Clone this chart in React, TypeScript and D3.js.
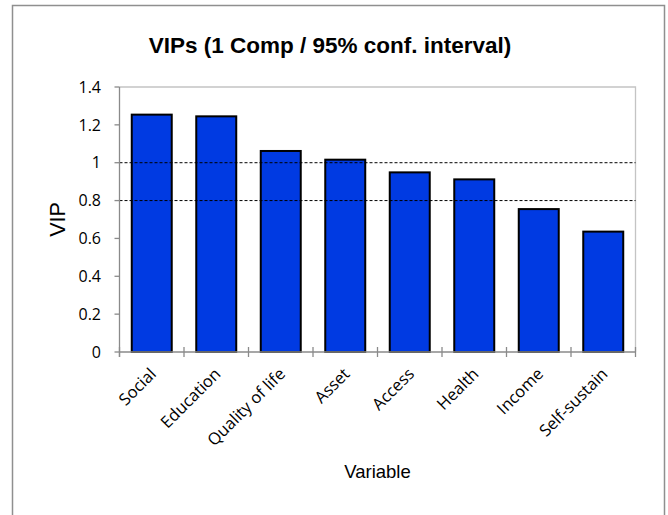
import React from "react";
import * as d3 from "d3";

const categories = ["Social", "Education", "Quality of life", "Asset", "Access", "Health", "Income", "Self-sustain"];
const vipValues = [1.254, 1.245, 1.062, 1.016, 0.949, 0.912, 0.755, 0.636];
const yTicks = [0, 0.2, 0.4, 0.6, 0.8, 1, 1.2, 1.4];
const thresholds = [1, 0.8];
const titleText = "VIPs (1 Comp / 95% conf. interval)";
const xTitle = "Variable";
const yTitle = "VIP";

const W = 668;
const H = 515;
const left = 119.5;
const right = 635.5;
const top = 87;
const bottom = 352;

export default function App() {
  const x = d3.scaleBand<string>().domain(categories).range([left, right]).paddingInner(0.38).paddingOuter(0.19);
  const y = d3.scaleLinear().domain([0, 1.4]).range([bottom, top]);
  const step = x.step();
  const boundaries = d3.range(categories.length + 1).map((i) => left + i * step);
  const tickFont = "'Open Sans', 'Noto Sans', sans-serif";
  return (
    <svg width={W} height={H} style={{ position: "absolute", left: 0, top: 0 }} xmlns="http://www.w3.org/2000/svg">
      <rect x={0} y={0} width={W} height={H} fill="#fff" />
      <rect x={12.5} y={5.5} width={652} height={520} fill="#fff" stroke="#8f8f8f" strokeWidth={1.5} />
      <text x={330} y={53} textAnchor="middle" fontFamily="'Liberation Sans', Arial, sans-serif" fontWeight="bold" fontSize={22.5} fill="#000">
        {titleText}
      </text>
      {/* plot frame top/right */}
      <path d={`M${left},${top}H${right}V${bottom}`} fill="none" stroke="#c4c4c4" strokeWidth={1.3} />
      {/* bars */}
      {categories.map((c, i) => (
        <rect
          key={c}
          x={x(c)!}
          y={y(vipValues[i])}
          width={x.bandwidth()}
          height={y(0) - y(vipValues[i])}
          fill="#003AE2"
          stroke="#000"
          strokeWidth={2}
        />
      ))}
      {/* threshold lines */}
      {thresholds.map((t) => (
        <line key={t} x1={left} x2={right} y1={y(t)} y2={y(t)} stroke="#000" strokeWidth={1} strokeDasharray="3,2" />
      ))}
      {/* y axis */}
      <line x1={left} x2={left} y1={top} y2={bottom + 5} stroke="#8a8a8a" strokeWidth={1.3} />
      {yTicks.map((t) => (
        <g key={t}>
          <line x1={left - 5} x2={left} y1={y(t)} y2={y(t)} stroke="#8a8a8a" strokeWidth={1.3} />
          <text x={left - 18.5} y={y(t)} dy="0.36em" textAnchor="end" fontFamily={tickFont} fontSize={16} fill="#000">
            {String(t)}
          </text>
        </g>
      ))}
      {/* x axis */}
      <line x1={left} x2={right} y1={bottom} y2={bottom} stroke="#8a8a8a" strokeWidth={1.3} />
      {boundaries.map((b, i) => (
        <line key={i} x1={b} x2={b} y1={bottom - 5} y2={bottom + 5} stroke="#8a8a8a" strokeWidth={1.3} />
      ))}
      {categories.map((c) => {
        const cx = x(c)! + x.bandwidth() / 2;
        return (
          <text
            key={c}
            transform={`translate(${cx + 5.5},${bottom + 23}) rotate(-45)`}
            textAnchor="end"
            fontFamily={tickFont}
            fontSize={16.5}
            fill="#000"
          >
            {c}
          </text>
        );
      })}
      <text x={(left + right) / 2} y={478} textAnchor="middle" fontFamily="'Liberation Sans', Arial, sans-serif" fontSize={18.5} fill="#000">
        {xTitle}
      </text>
      <text
        transform={`translate(65,${(top + bottom) / 2}) rotate(-90)`}
        textAnchor="middle"
        fontFamily="'Liberation Sans', Arial, sans-serif"
        fontSize={21.5}
        fill="#000"
      >
        {yTitle}
      </text>
    </svg>
  );
}
